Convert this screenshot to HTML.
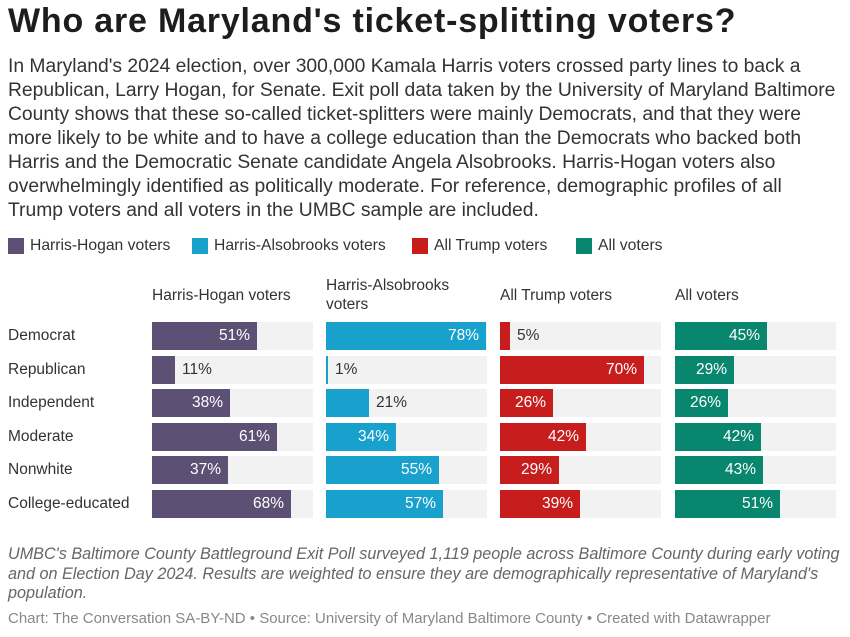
<!DOCTYPE html>
<html><head><meta charset="utf-8"><style>
body{margin:0;width:850px;height:637px;background:#fff;font-family:"Liberation Sans",sans-serif;color:#222;position:relative;overflow:hidden}
h1{position:absolute;left:8px;top:2px;margin:0;font-size:34px;letter-spacing:0.8px;font-weight:bold;color:#1d1d1d;white-space:nowrap}
.intro{position:absolute;left:8px;top:55px;font-size:19.3px;line-height:24px;color:#333;white-space:nowrap}
.leg{position:absolute;top:237px;font-size:15.7px;color:#333;display:flex;align-items:center;white-space:nowrap}
.leg i{display:inline-block;width:16px;height:16px;margin-right:6px}
.hd{position:absolute;font-size:15.5px;color:#333;line-height:19px;white-space:nowrap}
.lab{position:absolute;left:8px;font-size:15.5px;color:#333}
.bg{position:absolute;height:28px;background:#f2f2f2}
.bar{position:absolute;height:28px}
.v{position:absolute;font-size:15.5px;line-height:28px}
.foot{position:absolute;left:8px;top:545px;font-size:16.2px;font-style:italic;color:#666;line-height:19.5px;white-space:nowrap}
.cred{position:absolute;left:8px;top:610px;font-size:15px;color:#888;white-space:nowrap}
</style></head><body>
<h1>Who are Maryland's ticket-splitting voters?</h1>
<div class="intro">In Maryland's 2024 election, over 300,000 Kamala Harris voters crossed party lines to back a<br>Republican, Larry Hogan, for Senate. Exit poll data taken by the University of Maryland Baltimore<br>County shows that these so-called ticket-splitters were mainly Democrats, and that they were<br>more likely to be white and to have a college education than the Democrats who backed both<br>Harris and the Democratic Senate candidate Angela Alsobrooks. Harris-Hogan voters also<br>overwhelmingly identified as politically moderate. For reference, demographic profiles of all<br>Trump voters and all voters in the UMBC sample are included.</div>
<div class="leg" style="left:8px"><i style="background:#5c5075"></i>Harris-Hogan voters</div>
<div class="leg" style="left:192px"><i style="background:#18a1cd"></i>Harris-Alsobrooks voters</div>
<div class="leg" style="left:412px"><i style="background:#c71e1d"></i>All Trump voters</div>
<div class="leg" style="left:576px"><i style="background:#09866e"></i>All voters</div>
<div class="hd" style="left:152px;top:286px">Harris-Hogan voters</div>
<div class="hd" style="left:326px;top:276px">Harris-Alsobrooks<br>voters</div>
<div class="hd" style="left:500px;top:286px">All Trump voters</div>
<div class="hd" style="left:675px;top:286px">All voters</div>
<div id="c"></div>
<div class="foot">UMBC's Baltimore County Battleground Exit Poll surveyed 1,119 people across Baltimore County during early voting<br>and on Election Day 2024. Results are weighted to ensure they are demographically representative of Maryland's<br>population.</div>
<div class="cred">Chart: The Conversation SA-BY-ND • Source: University of Maryland Baltimore County • Created with Datawrapper</div>
<script>
var rows=["Democrat","Republican","Independent","Moderate","Nonwhite","College-educated"];
var cols=[[152,"#5c5075",[51,11,38,61,37,68]],[326,"#18a1cd",[78,1,21,34,55,57]],[500,"#c71e1d",[5,70,26,42,29,39]],[675,"#09866e",[45,29,26,42,43,51]]];
var h="";
rows.forEach(function(r,i){var y=322+i*33.5;
h+='<div class="lab" style="top:'+(y+5)+'px">'+r+'</div>';
cols.forEach(function(c){var v=c[2][i],w=Math.round(v*2.05);
h+='<div class="bg" style="left:'+c[0]+'px;top:'+y+'px;width:161px"></div>';
h+='<div class="bar" style="left:'+c[0]+'px;top:'+y+'px;width:'+Math.max(w,1)+'px;background:'+c[1]+'"></div>';
if(w>45)h+='<div class="v" style="left:'+(c[0])+'px;width:'+(w-7)+'px;text-align:right;top:'+y+'px;color:#fff">'+v+'%</div>';
else h+='<div class="v" style="left:'+(c[0]+w+7)+'px;top:'+y+'px;color:#333">'+v+'%</div>';
});});
document.getElementById("c").innerHTML=h;
</script>
</body></html>
